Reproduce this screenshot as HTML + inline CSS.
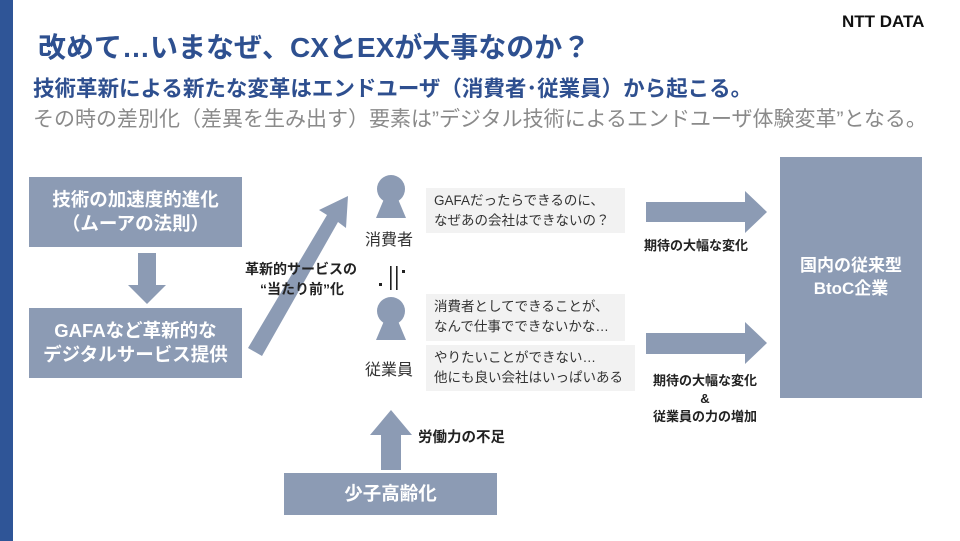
<!DOCTYPE html>
<html><head><meta charset="utf-8"><style>
body{margin:0;width:960px;height:541px;overflow:hidden;background:#fff;position:relative;font-family:"Liberation Sans","Noto Sans CJK JP",sans-serif}
.a{position:absolute;white-space:nowrap}
.bx{position:absolute;background:#8c9bb4;color:#fff;font-weight:bold;display:flex;align-items:center;justify-content:center;text-align:center;line-height:1.3}
.sp{position:absolute;background:#f2f2f2;color:#333;font-size:13.5px;line-height:20px;padding:3px 8px;box-sizing:border-box;white-space:nowrap}
.lb{position:absolute;font-weight:bold;font-size:13px;color:#222;text-align:center;line-height:18px;white-space:nowrap}
</style></head><body>
<div style="position:absolute;left:0;top:0;width:13px;height:541px;background:#2f5597"></div>
<div class="a" style="left:38px;top:26px;font-size:28px;font-weight:bold;color:#2e5090">改めて…いまなぜ、CXとEXが大事なのか？</div>
<div class="a" style="left:842px;top:12px;font-size:17px;font-weight:bold;color:#111">NTT DATA</div>
<div class="a" style="left:33px;top:72px;font-size:21.5px;font-weight:bold;color:#2e4f8f">技術革新による新たな変革はエンドユーザ（消費者･従業員）から起こる。</div>
<div class="a" style="left:33px;top:103px;font-size:21px;color:#8a8a8a">その時の差別化（差異を生み出す）要素は”デジタル技術によるエンドユーザ体験変革”となる。</div>

<svg width="960" height="541" style="position:absolute;left:0;top:0">
<g fill="#8c9bb4">
<polygon points="138,253 156,253 156,285 166,285 147,304 128,285 138,285"/>
<polygon points="248,348 327,215 319,210 348,196 346,228 338,222 262,356"/>
<circle cx="391" cy="189" r="14"/><polygon points="384,199 398,199 406,218 376,218"/>
<circle cx="391" cy="311" r="14"/><polygon points="384,321 398,321 406,340 376,340"/>
<polygon points="381,470 401,470 401,435 412,435 391,410 370,435 381,435"/>
<polygon points="646,202 745,202 745,191 767,212 745,233 745,222 646,222"/>
<polygon points="646,333 745,333 745,322 767,343 745,364 745,354 646,354"/>
</g>
<g fill="#222"><rect x="390" y="266" width="1.6" height="24"/><rect x="396" y="266" width="1.6" height="24"/><rect x="379" y="283" width="3" height="3"/><rect x="402" y="270" width="3" height="3"/></g>
</svg>

<div class="bx" style="left:29px;top:177px;width:213px;height:70px;font-size:18.5px">技術の加速度的進化<br>（ムーアの法則）</div>
<div class="bx" style="left:29px;top:308px;width:213px;height:70px;font-size:18.5px">GAFAなど革新的な<br>デジタルサービス提供</div>
<div class="bx" style="left:284px;top:473px;width:213px;height:42px;font-size:18.5px">少子高齢化</div>
<div class="bx" style="left:780px;top:157px;width:142px;height:241px;font-size:17px">国内の従来型<br>BtoC企業</div>

<div class="lb" style="left:245px;top:259px;font-size:14px;line-height:20px">革新的サービスの</div>
<div class="lb" style="left:260px;top:279px;font-size:14px;line-height:20px">“当たり前”化</div>
<div class="a" style="left:365px;top:226px;font-size:16px;color:#333">消費者</div>
<div class="a" style="left:365px;top:356px;font-size:16px;color:#333">従業員</div>
<div class="sp" style="left:426px;top:188px;width:199px;height:45px">GAFAだったらできるのに、<br>なぜあの会社はできないの？</div>
<div class="sp" style="left:426px;top:294px;width:199px;height:47px">消費者としてできることが、<br>なんで仕事でできないかな…</div>
<div class="sp" style="left:426px;top:345px;width:209px;height:46px">やりたいことができない…<br>他にも良い会社はいっぱいある</div>
<div class="lb" style="left:644px;top:237px">期待の大幅な変化</div>
<div class="lb" style="left:644px;top:372px;width:122px">期待の大幅な変化<br>&amp;<br>従業員の力の増加</div>
<div class="lb" style="left:418px;top:429px;font-size:14.5px">労働力の不足</div>
</body></html>
